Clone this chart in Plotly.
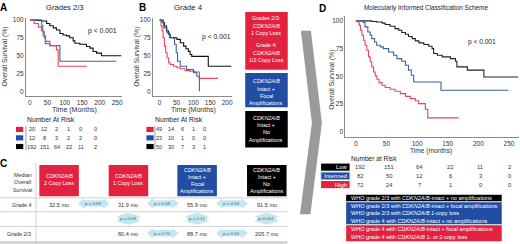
import plotly.graph_objects as go

W, H = 520, 244
def X(p): return p / W
def Y(p): return 1 - p / H

FONT = "Liberation Sans, Arial, Helvetica, sans-serif"
RED, BLUE, BLACK = "#e2223f", "#1f4ea4", "#000000"
LRED, LBLUE, LBLACK = "#e8455c", "#3a62b0", "#111111"
ARROW = "#c4e6f0"

# ---------------- data ----------------
surv_ticks = [0, 25, 50, 75, 100]
a_time_ticks = [0, 50, 100, 150, 200, 250]
b_time_ticks = [0, 50, 100, 150, 200]
d_time_ticks = [0, 50, 100, 150, 200, 250]

# Panel A: Grades 2/3
a_black_t = [0, 20, 33, 48, 57, 67, 76, 86, 95, 105, 114, 124, 129, 143, 162, 172, 181, 191, 205, 262]
a_black_s = [100, 99.5, 98.6, 95, 92, 89, 86, 81, 79, 77.7, 75, 70.7, 67.4, 66, 62.8, 60.5, 55.8, 53.5, 49.8, 49.8]
a_red_t = [0, 12, 24, 33, 38, 45, 57, 76, 81, 164]
a_red_s = [100, 95, 90, 85, 78, 70, 64, 58, 35, 35]
a_blue_t = [0, 34, 37, 41, 44, 57, 86, 248]
a_blue_s = [100, 91.7, 83.3, 75, 66.7, 64, 42, 42]

# Panel B: Grade 4
b_black_t = [0, 10, 14, 20, 26, 31, 51, 61, 71, 78, 85, 90, 95, 144, 213]
b_black_s = [100, 96, 91.5, 84.5, 80, 75, 72.8, 68, 63.4, 59.6, 56, 51.6, 49, 35, 35]
b_red_t = [0, 2, 4, 7, 10, 14, 18, 22, 26.5, 31, 41, 51, 61, 75, 90, 105, 117.6, 173]
b_red_s = [100, 98.6, 91.5, 84.5, 75, 63.4, 54, 47, 40, 37.6, 35, 33, 31.5, 29, 28, 27, 18, 18]
b_blue_t = [0, 7, 12, 21.6, 29, 41, 44, 49, 53, 61, 80, 100, 110, 117.6, 117.6]
b_blue_s = [100, 97, 89, 82, 75, 74, 66, 54, 42, 35, 30.5, 26, 21, 21, 0]

# Panel D: molecularly informed scheme
d_low_t = [0, 26, 34, 43, 48, 56, 64, 70, 75, 81, 86, 92, 97, 103, 111, 119, 124.5, 127, 133, 141, 154.5, 162.7, 165, 182, 209, 265]
d_low_s = [100, 99.5, 99, 98, 96.7, 95.2, 93, 91.6, 89.5, 88, 86, 84, 82, 80.2, 78.7, 77.2, 75, 70.6, 69, 67.6, 66, 63.7, 58.6, 55.6, 49.5, 49.5]
d_int_t = [0, 10, 12.6, 15, 19.6, 23.5, 26, 30.6, 34, 40, 45, 53.5, 61.7, 67, 75, 81, 86, 90.6, 94.4, 139, 249]
d_int_s = [100, 99.7, 98.5, 94.6, 90, 87, 84, 81, 78, 76.6, 75, 72, 69, 66, 63.7, 60, 55.6, 51, 45, 37.5, 37.5]
d_high_t = [0, 3, 5.5, 7.6, 10, 12.6, 15, 18, 20.7, 23.5, 26, 29, 31.7, 34.4, 38, 42.6, 48, 56, 64, 72.6, 81, 89, 97, 102.6, 113.5, 117.4, 168]
d_high_s = [100, 99, 96, 91.6, 87, 82.6, 78, 73.6, 67.6, 63, 58.6, 54, 50.5, 47.4, 44.4, 42, 40, 38.4, 36.6, 34.5, 32, 30, 28, 25.5, 20.4, 12.6, 12.6]

# Numbers at risk
a_risk_red = [20, 12, 2, 1, 0, 0]
a_risk_blue = [12, 8, 3, 2, 2, 0]
a_risk_black = [192, 151, 64, 22, 11, 2]
b_risk_red = [49, 14, 6, 1, 0]
b_risk_blue = [23, 10, 1, 0, 0]
b_risk_black = [50, 30, 7, 3, 1]
d_risk_labels = ["Low", "Intermed", "High"]
d_risk_low = [192, 151, 64, 22, 11, 2]
d_risk_int = [82, 50, 12, 6, 3, 0]
d_risk_high = [72, 24, 7, 1, 0, 0]

# Panel C table
c_headers = [["<i>CDKN2A/B</i>", "2 Copy Loss"],
             ["<i>CDKN2A/B</i>", "1 Copy Loss"],
             ["<i>CDKN2A/B</i>", "Intact +", "Focal", "Amplifications"],
             ["<i>CDKN2A/B</i>", "Intact +", "No", "Amplifications"]]
c_row_labels = ["Grade 4", "Grade 2/3"]
c_grade4 = ["32.5 mo", "31.9 mo", "55.9 mo", "91.5 mo"]
c_grade23 = ["", "80.4 mo", "88.7 mo", "205.7 mo"]
c_p_grade4 = ["p = 0.69", "p = 0.58", "p = 0.03"]
c_p_grade23 = ["", "p = 0.70", "p = 0.04"]
c_p_between = ["", "p = 0.09", "p = 0.11", "p<0.001"]

# Legend texts
mid_legend = [["Grades 2/3:", "<i>CDKN2A/B</i>", "1 Copy Loss", "", "Grade 4:", "<i>CDKN2A/B</i>", "1/2 Copy Loss"],
              ["<i>CDKN2A/B</i>", "Intact +", "Focal", "Amplifications"],
              ["<i>CDKN2A/B</i>", "Intact +", "No", "Amplifications"]]
d_legend = [["WHO grade 2/3 with <i>CDKN2A/B</i>-intact + no amplifications"],
            ["WHO grade 2/3 with <i>CDKN2A/B</i>-intact + focal amplifications",
             "WHO grade 2/3 with <i>CDKN2A/B</i> 1-copy loss",
             "WHO grade 4 with <i>CDKN2A/B</i>-intact + no amplifications"],
            ["WHO grade 4 with <i>CDKN2A/B</i>-intact + focal amplifications",
             "WHO grade 4 with <i>CDKN2A/B</i> 1- or 2-copy loss"]]

# ---------------- figure ----------------
fig = go.Figure()

def km(t, s, color, xa, ya):
    fig.add_trace(go.Scatter(x=t, y=s, mode="lines", line=dict(color=color, width=1.1, shape="hv"),
                             xaxis=xa, yaxis=ya, showlegend=False, hoverinfo="skip"))

km(a_black_t, a_black_s, LBLACK, "x", "y")
km(a_blue_t, a_blue_s, LBLUE, "x", "y")
km(a_red_t, a_red_s, LRED, "x", "y")
km(b_black_t, b_black_s, LBLACK, "x2", "y2")
km(b_red_t, b_red_s, LRED, "x2", "y2")
km(b_blue_t, b_blue_s, LBLUE, "x2", "y2")
km(d_low_t, d_low_s, "#222222", "x3", "y3")
km(d_int_t, d_int_s, LBLUE, "x3", "y3")
km(d_high_t, d_high_s, LRED, "x3", "y3")

ax = dict(showline=True, linecolor="#8a8a8a", linewidth=1, showgrid=False, zeroline=False,
          ticks="", tickfont=dict(size=6.5, color="#333", family=FONT))
fig.update_layout(
    xaxis=dict(ax, domain=[X(26), X(122)], range=[-11.4, 263.3], tickvals=a_time_ticks, anchor="y"),
    yaxis=dict(ax, domain=[Y(95), Y(16)], range=[-7, 103], tickvals=surv_ticks, anchor="x"),
    xaxis2=dict(ax, domain=[X(153.3), X(232)], range=[-19.8, 213], tickvals=b_time_ticks, anchor="y2"),
    yaxis2=dict(ax, domain=[Y(95), Y(16)], range=[-7, 103], tickvals=surv_ticks, anchor="x2"),
    xaxis3=dict(ax, domain=[X(346), X(520)], range=[-17.1, 266.3], tickvals=d_time_ticks, anchor="y3"),
    yaxis3=dict(ax, domain=[Y(136), Y(14)], range=[-4.5, 104.5], tickvals=surv_ticks, anchor="x3"),
)

ann = []
shapes = []

def txt(x, y, s, size=5.5, color="#222", xa="center", bold=False, angle=0):
    if bold:
        s = "<b>" + s + "</b>"
    ann.append(dict(x=X(x), y=Y(y), xref="paper", yref="paper", text=s, showarrow=False,
                    xanchor=xa, yanchor="middle", textangle=angle,
                    font=dict(size=size, color=color, family=FONT)))

def rect(x0, y0, x1, y1, fill, line=None, lw=0):
    shapes.append(dict(type="rect", xref="paper", yref="paper", x0=X(x0), x1=X(x1), y0=Y(y1), y1=Y(y0),
                       fillcolor=fill, line=dict(color=line or fill, width=lw), layer="below"))

def hline(x0, x1, y, color="#cfcfcf", w=1):
    shapes.append(dict(type="line", xref="paper", yref="paper", x0=X(x0), x1=X(x1), y0=Y(y), y1=Y(y),
                       line=dict(color=color, width=w)))

def vline(x, y0, y1, color="#cfcfcf", w=1):
    shapes.append(dict(type="line", xref="paper", yref="paper", x0=X(x), x1=X(x), y0=Y(y0), y1=Y(y1),
                       line=dict(color=color, width=w)))

def poly(pts, fill):
    path = "M " + " L ".join(f"{X(a):.5f},{Y(b):.5f}" for a, b in pts) + " Z"
    shapes.append(dict(type="path", xref="paper", yref="paper", path=path, fillcolor=fill,
                       line=dict(width=0), layer="below"))

# panel letters & titles
txt(4, 6, "A", 10, "#000", bold=True)
txt(142.5, 6, "B", 10, "#000", bold=True)
txt(4, 163, "C", 10, "#000", bold=True)
txt(323.5, 6.5, "D", 10, "#000", bold=True)
txt(65, 6, "Grades 2/3", 7.6, "#222")
txt(188.5, 6, "Grade 4", 7.8, "#222")
txt(427, 6.5, "Molecularly Informed Classification Scheme", 6.4, "#222")

# axis titles
txt(5, 55, "Overall Survival (%)", 6.8, "#333", angle=-90)
txt(136.5, 55, "Overall Survival (%)", 6.8, "#333", angle=-90)
txt(333, 78, "Overall Survival (%)", 6.8, "#333", angle=-90)
txt(75, 108.5, "Time (Months)", 7, "#333")
txt(194, 108.5, "Time (Months)", 7, "#333")
txt(432, 150, "Time (months)", 6.6, "#333")

# p values
txt(103, 29.5, "p < 0.001", 6.8, "#222")
txt(216.5, 35.5, "p < 0.001", 6.8, "#222")
txt(483, 40.5, "p < 0.001", 6.6, "#222")

# risk tables A & B
txt(51, 118.5, "Number At Risk", 6.8, "#222")
txt(179.5, 118.5, "Number At Risk", 6.8, "#222")
a_cols = [31.8, 44.5, 57, 69, 81, 95.3]
b_cols = [159.5, 171.8, 183.3, 194, 205]
row_y = [128.5, 137, 145.7]
for (lst, col, yy) in [(a_risk_red, RED, row_y[0]), (a_risk_blue, BLUE, row_y[1]), (a_risk_black, BLACK, row_y[2])]:
    rect(16, yy - 2.6, 23.3, yy + 2.6, col)
    for cx, v in zip(a_cols, lst):
        txt(cx, yy, str(v), 5.6, "#333")
for (lst, col, yy) in [(b_risk_red, RED, row_y[0]), (b_risk_blue, BLUE, row_y[1]), (b_risk_black, BLACK, row_y[2])]:
    rect(146.7, yy - 2.6, 154, yy + 2.6, col)
    for cx, v in zip(b_cols, lst):
        txt(cx, yy, str(v), 5.6, "#333")
vline(26, 125, 149.5, "#888", 0.8)
vline(155.3, 125, 149.5, "#888", 0.8)

# middle legend boxes
mid_boxes = [(10, 68.3, RED), (71.7, 106, BLUE), (110, 146.7, BLACK)]
mid_line_y = [[16, 24, 31.5, 0, 43.5, 51, 58.5], [80, 87.5, 95, 102], [116.5, 124, 131.5, 139]]
for (y0, y1, col), lines, ys in zip(mid_boxes, mid_legend, mid_line_y):
    rect(245.7, y0, 288.3, y1, col)
    for s, yy in zip(lines, ys):
        if s:
            txt(267, yy, s, 5.4, "#fff")

# chevron arrow
poly([(301.5, 29), (311.5, 29), (322.5, 122), (311, 214), (300.5, 214), (312.5, 122)], "#9a9a9a")

# D risk table
txt(374.5, 158, "Number at Risk", 6.6, "#222")
d_cols = [361, 390, 420, 451, 481, 510.5]
d_rows = [(d_risk_low, BLACK, 166.5), (d_risk_int, BLUE, 175.3), (d_risk_high, RED, 184.1)]
for (lst, col, yy), lab in zip(d_rows, d_risk_labels):
    rect(321.7, yy - 3.6, 350.3, yy + 3.6, col, "#8fb0e0" if col == BLUE else None, 0.8 if col == BLUE else 0)
    txt(349.5, yy, lab, 5.8, "#fff", xa="right")
    for cx, v in zip(d_cols, lst):
        txt(cx, yy, str(v), 5.8, "#333")

# D legend
d_leg_boxes = [(194.3, 201, BLACK), (201.8, 224.2, BLUE), (225, 241.3, RED)]
d_leg_y = [[197.7], [205.3, 212.8, 220.5], [229.3, 236.9]]
for (y0, y1, col), lines, ys in zip(d_leg_boxes, d_legend, d_leg_y):
    rect(346.8, y0, 502.7, y1, col)
    for s, yy in zip(lines, ys):
        txt(349.3, yy, s, 5.5, "#fff", xa="left")

# Panel C table
hline(0, 288, 197.5, "#d0d0d0", 1)
hline(0, 288, 211.5, "#d0d0d0", 1)
hline(0, 288, 226.3, "#d0d0d0", 1)
rect(0, 241, 288, 244, "#d6d6d6")
vline(36, 162, 244, "#d0d0d0", 1)
txt(22.7, 174.5, "Median", 5.4, "#333")
txt(22.7, 181.8, "Overall", 5.4, "#333")
txt(22.7, 189.1, "Survival", 5.4, "#333")
c_cols = [59.2, 128.7, 197.5, 267.3]
c_box_cols = [RED, RED, BLUE, BLACK]
for cx, col, lines in zip(c_cols, c_box_cols, c_headers):
    rect(cx - 19.8, 164.3, cx + 19.8, 195.8, col)
    if len(lines) == 2:
        ys = [175.6, 182.8]
    else:
        ys = [169, 176.3, 183.5, 190.8]
    for s, yy in zip(lines, ys):
        txt(cx, yy, s, 5.4, "#fff")
txt(33, 204.5, c_row_labels[0], 5.4, "#333", xa="right")
txt(33, 234.3, c_row_labels[1], 5.4, "#333", xa="right")
for cx, v in zip(c_cols, c_grade4):
    txt(cx, 204.5, v, 5.6, "#333")
for cx, v in zip(c_cols, c_grade23):
    if v:
        txt(cx, 234.3, v, 5.6, "#333")

def harrow(cx, cy, w=32, h=10.6, sh=3.3, hl=6.5):
    x0, x1 = cx - w / 2, cx + w / 2
    return [(x0, cy), (x0 + hl, cy - h / 2), (x0 + hl, cy - sh), (x1 - hl, cy - sh), (x1 - hl, cy - h / 2),
            (x1, cy), (x1 - hl, cy + h / 2), (x1 - hl, cy + sh), (x0 + hl, cy + sh), (x0 + hl, cy + h / 2)]

def varrow(cx, cy, w=27, h=12, hl=4, sw=10):
    y0, y1 = cy - h / 2, cy + h / 2
    return [(cx, y0), (cx + w / 2, y0 + hl), (cx + sw, y0 + hl), (cx + sw, y1 - hl), (cx + w / 2, y1 - hl),
            (cx, y1), (cx - w / 2, y1 - hl), (cx - sw, y1 - hl), (cx - sw, y0 + hl), (cx - w / 2, y0 + hl)]

for i, p in enumerate(c_p_grade4):
    cx = (c_cols[i] + c_cols[i + 1]) / 2
    poly(harrow(cx, 203.2), ARROW)
    txt(cx, 203.2, p, 4.4, "#3d6585")
for i, p in enumerate(c_p_grade23):
    if p:
        cx = (c_cols[i] + c_cols[i + 1]) / 2
        poly(harrow(cx, 233.2), ARROW)
        txt(cx, 233.2, p, 4.4, "#3d6585")
for cx, p in zip(c_cols, c_p_between):
    if p:
        poly(varrow(cx, 218.5), ARROW)
        txt(cx, 218.5, p, 4.4, "#3d6585")

fig.update_layout(width=W, height=H, margin=dict(l=0, r=0, t=0, b=0), paper_bgcolor="white",
                  plot_bgcolor="white", annotations=ann, shapes=shapes, font=dict(family=FONT))
fig.write_html("out.html", config={"displayModeBar": False},
               post_script="document.body.style.margin='0';document.body.style.overflow='hidden';")
